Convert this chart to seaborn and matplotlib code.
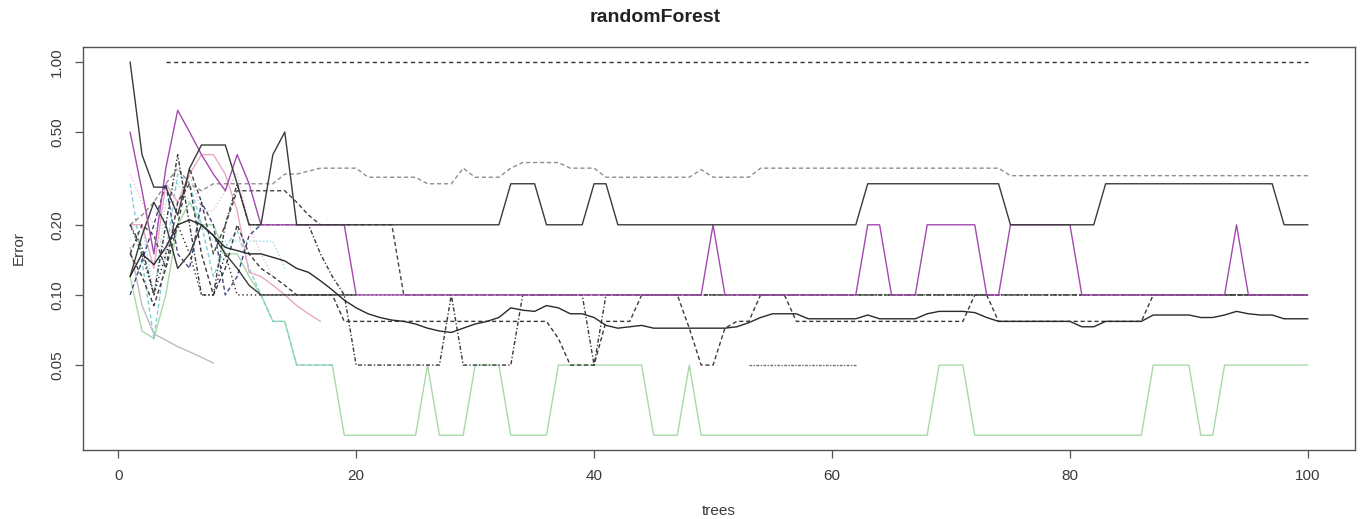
import numpy as np
import pandas as pd
import matplotlib
matplotlib.use("Agg")
import matplotlib.pyplot as plt
import seaborn as sns
from matplotlib.ticker import FixedLocator, FixedFormatter, NullLocator

nan = np.nan
trees = list(range(1, 101))

# OOB error (black solid)
oob = [0.120, 0.150, 0.135, 0.160, 0.200, 0.210, 0.200, 0.180, 0.160, 0.155,
       0.150, 0.150, 0.145, 0.140, 0.130, 0.125, 0.115, 0.105, 0.095, 0.088,
       0.083, 0.080, 0.078, 0.077, 0.075, 0.072, 0.070, 0.069, 0.072, 0.075,
       0.077, 0.080, 0.088, 0.086, 0.085, 0.090, 0.088, 0.083, 0.083, 0.080,
       0.074, 0.072, 0.073, 0.074, 0.072, 0.072, 0.072, 0.072, 0.072, 0.072,
       0.072, 0.073, 0.076, 0.080, 0.083, 0.083, 0.083, 0.079, 0.079, 0.079,
       0.079, 0.079, 0.082, 0.079, 0.079, 0.079, 0.079, 0.083, 0.085, 0.085,
       0.085, 0.084, 0.080, 0.077, 0.077, 0.077, 0.077, 0.077, 0.077, 0.077,
       0.073, 0.073, 0.077, 0.077, 0.077, 0.077, 0.082, 0.082, 0.082, 0.082,
       0.080, 0.080, 0.082, 0.085, 0.083, 0.082, 0.082, 0.079, 0.079, 0.079]

# class never predicted (black dashed, 1.00)
cls_a = [nan, nan, nan, 1.0, 1.0, 1.0, 1.0, 1.0, 1.0, 1.0,
         1.0, 1.0, 1.0, 1.0, 1.0, 1.0, 1.0, 1.0, 1.0, 1.0,
         1.0, 1.0, 1.0, 1.0, 1.0, 1.0, 1.0, 1.0, 1.0, 1.0,
         1.0, 1.0, 1.0, 1.0, 1.0, 1.0, 1.0, 1.0, 1.0, 1.0,
         1.0, 1.0, 1.0, 1.0, 1.0, 1.0, 1.0, 1.0, 1.0, 1.0,
         1.0, 1.0, 1.0, 1.0, 1.0, 1.0, 1.0, 1.0, 1.0, 1.0,
         1.0, 1.0, 1.0, 1.0, 1.0, 1.0, 1.0, 1.0, 1.0, 1.0,
         1.0, 1.0, 1.0, 1.0, 1.0, 1.0, 1.0, 1.0, 1.0, 1.0,
         1.0, 1.0, 1.0, 1.0, 1.0, 1.0, 1.0, 1.0, 1.0, 1.0,
         1.0, 1.0, 1.0, 1.0, 1.0, 1.0, 1.0, 1.0, 1.0, 1.0]

# dark solid class (0.20 / 0.30)
cls_b = [1.00, 0.40, 0.29, 0.29, 0.22, 0.35, 0.44, 0.44, 0.44, 0.30,
         0.20, 0.20, 0.40, 0.50, 0.20, 0.20, 0.20, 0.20, 0.20, 0.20,
         0.20, 0.20, 0.20, 0.20, 0.20, 0.20, 0.20, 0.20, 0.20, 0.20,
         0.20, 0.20, 0.30, 0.30, 0.30, 0.20, 0.20, 0.20, 0.20, 0.30,
         0.30, 0.20, 0.20, 0.20, 0.20, 0.20, 0.20, 0.20, 0.20, 0.20,
         0.20, 0.20, 0.20, 0.20, 0.20, 0.20, 0.20, 0.20, 0.20, 0.20,
         0.20, 0.20, 0.30, 0.30, 0.30, 0.30, 0.30, 0.30, 0.30, 0.30,
         0.30, 0.30, 0.30, 0.30, 0.20, 0.20, 0.20, 0.20, 0.20, 0.20,
         0.20, 0.20, 0.30, 0.30, 0.30, 0.30, 0.30, 0.30, 0.30, 0.30,
         0.30, 0.30, 0.30, 0.30, 0.30, 0.30, 0.30, 0.20, 0.20, 0.20]

# magenta solid class (0.10 / 0.20)
cls_c = [0.50, 0.28, 0.15, 0.35, 0.62, 0.50, 0.40, 0.33, 0.28, 0.40,
         0.30, 0.20, 0.20, 0.20, 0.20, 0.20, 0.20, 0.20, 0.20, 0.10,
         0.10, 0.10, 0.10, 0.10, 0.10, 0.10, 0.10, 0.10, 0.10, 0.10,
         0.10, 0.10, 0.10, 0.10, 0.10, 0.10, 0.10, 0.10, 0.10, 0.10,
         0.10, 0.10, 0.10, 0.10, 0.10, 0.10, 0.10, 0.10, 0.10, 0.20,
         0.10, 0.10, 0.10, 0.10, 0.10, 0.10, 0.10, 0.10, 0.10, 0.10,
         0.10, 0.10, 0.20, 0.20, 0.10, 0.10, 0.10, 0.20, 0.20, 0.20,
         0.20, 0.20, 0.10, 0.10, 0.20, 0.20, 0.20, 0.20, 0.20, 0.20,
         0.10, 0.10, 0.10, 0.10, 0.10, 0.10, 0.10, 0.10, 0.10, 0.10,
         0.10, 0.10, 0.10, 0.20, 0.10, 0.10, 0.10, 0.10, 0.10, 0.10]

# grey dashed class (~0.33)
cls_d = [0.20, 0.22, 0.25, 0.30, 0.35, 0.30, 0.28, 0.30, 0.30, 0.30,
         0.30, 0.30, 0.30, 0.33, 0.33, 0.34, 0.35, 0.35, 0.35, 0.35,
         0.32, 0.32, 0.32, 0.32, 0.32, 0.30, 0.30, 0.30, 0.35, 0.32,
         0.32, 0.32, 0.35, 0.37, 0.37, 0.37, 0.37, 0.35, 0.35, 0.35,
         0.32, 0.32, 0.32, 0.32, 0.32, 0.32, 0.32, 0.32, 0.345, 0.32,
         0.32, 0.32, 0.32, 0.35, 0.35, 0.35, 0.35, 0.35, 0.35, 0.35,
         0.35, 0.35, 0.35, 0.35, 0.35, 0.35, 0.35, 0.35, 0.35, 0.35,
         0.35, 0.35, 0.35, 0.35, 0.325, 0.325, 0.325, 0.325, 0.325, 0.325,
         0.325, 0.325, 0.325, 0.325, 0.325, 0.325, 0.325, 0.325, 0.325, 0.325,
         0.325, 0.325, 0.325, 0.325, 0.325, 0.325, 0.325, 0.325, 0.325, 0.325]

# black dotted class (0.10)
cls_e = [0.20, 0.15, 0.10, 0.15, 0.20, 0.15, 0.10, 0.10, 0.15, 0.10,
         0.10, 0.10, 0.10, 0.10, 0.10, 0.10, 0.10, 0.10, 0.10, 0.10,
         0.10, 0.10, 0.10, 0.10, 0.10, 0.10, 0.10, 0.10, 0.10, 0.10,
         0.10, 0.10, 0.10, 0.10, 0.10, 0.10, 0.10, 0.10, 0.10, 0.10,
         0.10, 0.10, 0.10, 0.10, 0.10, 0.10, 0.10, 0.10, 0.10, 0.10,
         0.10, 0.10, 0.10, 0.10, 0.10, 0.10, 0.10, 0.10, 0.10, 0.10,
         0.10, 0.10, 0.10, 0.10, 0.10, 0.10, 0.10, 0.10, 0.10, 0.10,
         0.10, 0.10, 0.10, 0.10, 0.10, 0.10, 0.10, 0.10, 0.10, 0.10,
         0.10, 0.10, 0.10, 0.10, 0.10, 0.10, 0.10, 0.10, 0.10, 0.10,
         0.10, 0.10, 0.10, 0.10, 0.10, 0.10, 0.10, 0.10, 0.10, 0.10]

# black dash-dot class (0.05 / 0.10)
cls_f = [0.20, 0.16, 0.10, 0.20, 0.40, 0.20, 0.10, 0.10, 0.20, 0.30,
         0.20, 0.20, 0.20, 0.20, 0.20, 0.20, 0.15, 0.12, 0.10, 0.05,
         0.05, 0.05, 0.05, 0.05, 0.05, 0.05, 0.05, 0.10, 0.05, 0.05,
         0.05, 0.05, 0.05, 0.10, 0.10, 0.10, 0.10, 0.10, 0.10, 0.05,
         0.10, 0.10, 0.10, 0.10, 0.10, 0.10, 0.10, 0.10, 0.10, 0.10,
         0.10, 0.10, 0.10, 0.10, 0.10, 0.10, 0.10, 0.10, 0.10, 0.10,
         0.10, 0.10, 0.10, 0.10, 0.10, 0.10, 0.10, 0.10, 0.10, 0.10,
         0.10, 0.10, 0.10, 0.10, 0.10, 0.10, 0.10, 0.10, 0.10, 0.10,
         0.10, 0.10, 0.10, 0.10, 0.10, 0.10, 0.10, 0.10, 0.10, 0.10,
         0.10, 0.10, 0.10, 0.10, 0.10, 0.10, 0.10, 0.10, 0.10, 0.10]

# black dashed class (~0.077)
cls_g = [0.15, 0.12, 0.09, 0.13, 0.25, 0.30, 0.15, 0.10, 0.13, 0.20,
         0.15, 0.13, 0.12, 0.11, 0.10, 0.10, 0.10, 0.10, 0.077, 0.077,
         0.077, 0.077, 0.077, 0.077, 0.077, 0.077, 0.077, 0.077, 0.077, 0.077,
         0.077, 0.077, 0.077, 0.077, 0.077, 0.077, 0.065, 0.05, 0.05, 0.05,
         0.077, 0.077, 0.077, 0.10, 0.10, 0.10, 0.10, 0.072, 0.05, 0.05,
         0.072, 0.077, 0.077, 0.10, 0.10, 0.10, 0.077, 0.077, 0.077, 0.077,
         0.077, 0.077, 0.077, 0.077, 0.077, 0.077, 0.077, 0.077, 0.077, 0.077,
         0.077, 0.10, 0.10, 0.077, 0.077, 0.077, 0.077, 0.077, 0.077, 0.077,
         0.077, 0.077, 0.077, 0.077, 0.077, 0.077, 0.10, 0.10, 0.10, 0.10,
         0.10, 0.10, 0.10, 0.10, 0.10, 0.10, 0.10, 0.10, 0.10, 0.10]

# dark solid class (0.30 -> 0.20 -> 0.10)
cls_h = [0.15, 0.20, 0.18, 0.13, 0.20, 0.35, 0.25, 0.15, 0.20, 0.28,
         0.28, 0.28, 0.28, 0.28, 0.25, 0.22, 0.20, 0.20, 0.20, 0.20,
         0.20, 0.20, 0.20, 0.10, 0.10, 0.10, 0.10, 0.10, 0.10, 0.10,
         0.10, 0.10, 0.10, 0.10, 0.10, 0.10, 0.10, 0.10, 0.10, 0.10,
         0.10, 0.10, 0.10, 0.10, 0.10, 0.10, 0.10, 0.10, 0.10, 0.10,
         0.10, 0.10, 0.10, 0.10, 0.10, 0.10, 0.10, 0.10, 0.10, 0.10,
         0.10, 0.10, 0.10, 0.10, 0.10, 0.10, 0.10, 0.10, 0.10, 0.10,
         0.10, 0.10, 0.10, 0.10, 0.10, 0.10, 0.10, 0.10, 0.10, 0.10,
         0.10, 0.10, 0.10, 0.10, 0.10, 0.10, 0.10, 0.10, 0.10, 0.10,
         0.10, 0.10, 0.10, 0.10, 0.10, 0.10, 0.10, 0.10, 0.10, 0.10]

# dark solid class reaching 0.10 early (0.10 from tree 12)
cls_q = [0.12, 0.18, 0.25, 0.20, 0.13, 0.15, 0.20, 0.18, 0.15, 0.13,
         0.11, 0.10, 0.10, 0.10, 0.10, 0.10, 0.10, 0.10, 0.10, 0.10] + [nan] * 80

# light green class (0.025 / 0.05)
cls_i = [0.12, 0.07, 0.065, 0.10, 0.20, 0.25, 0.20, 0.20, 0.15, 0.15,
         0.12, 0.10, 0.077, 0.077, 0.05, 0.05, 0.05, 0.05, 0.025, 0.025,
         0.025, 0.025, 0.025, 0.025, 0.025, 0.05, 0.025, 0.025, 0.025, 0.05,
         0.05, 0.05, 0.025, 0.025, 0.025, 0.025, 0.05, 0.05, 0.05, 0.05,
         0.05, 0.05, 0.05, 0.05, 0.025, 0.025, 0.025, 0.05, 0.025, 0.025,
         0.025, 0.025, 0.025, 0.025, 0.025, 0.025, 0.025, 0.025, 0.025, 0.025,
         0.025, 0.025, 0.025, 0.025, 0.025, 0.025, 0.025, 0.025, 0.05, 0.05,
         0.05, 0.025, 0.025, 0.025, 0.025, 0.025, 0.025, 0.025, 0.025, 0.025,
         0.025, 0.025, 0.025, 0.025, 0.025, 0.025, 0.05, 0.05, 0.05, 0.05,
         0.025, 0.025, 0.05, 0.05, 0.05, 0.05, 0.05, 0.05, 0.05, 0.05]

# cyan dashed class (early trees only)
cls_j = [0.30, 0.14, 0.065, 0.15, 0.33, 0.30, 0.20, 0.12, 0.16, 0.19,
         0.13, 0.10, 0.077, 0.077, 0.05, 0.05, 0.05, 0.05] + [nan] * 82

# cyan dotted class (early trees only)
cls_k = [0.20, 0.20, 0.10, 0.25, 0.30, 0.25, 0.20, 0.17, 0.17, 0.17,
         0.17, 0.17, 0.17, 0.13] + [nan] * 86

# pink solid class (early trees only)
cls_l = [0.20, 0.20, 0.13, 0.30, 0.25, 0.33, 0.40, 0.40, 0.33, 0.23,
         0.125, 0.12, 0.11, 0.10, 0.09, 0.083, 0.077] + [nan] * 83

# light pink dotted class (early trees only)
cls_m = [0.33, 0.25, 0.20, 0.15, 0.25, 0.33, 0.23, 0.23, 0.28, 0.33,
         0.20, 0.15, 0.12] + [nan] * 87

# light grey solid class (early trees only)
cls_n = [0.16, 0.09, 0.068, 0.064, 0.060, 0.057, 0.054, 0.051] + [nan] * 92

# navy dashed class (early trees only)
cls_o = [0.10, 0.14, 0.20, 0.30, 0.15, 0.13, 0.25, 0.20, 0.10, 0.12,
         0.18, 0.20] + [nan] * 88

# grey dash-dot short segment at 0.05
cls_p = [nan] * 52 + [0.05, 0.05, 0.05, 0.05, 0.05, 0.05, 0.05, 0.05, 0.05, 0.05] + [nan] * 38

series = {
    "c_green": cls_i, "c_cyan": cls_j, "c_cyan2": cls_k, "c_pink": cls_l,
    "c_pink2": cls_m, "c_grey2": cls_n, "c_grey": cls_d, "c_short": cls_p,
    "c_navy": cls_o, "c_dot": cls_e, "c_dashdot": cls_f, "c_dash2": cls_g,
    "c_dash3": cls_h, "c_early": cls_q, "c_magenta": cls_c, "c_one": cls_a,
    "c_dark": cls_b, "OOB": oob,
}
order = list(series.keys())

palette = {
    "c_green": "#a9d9a9", "c_cyan": "#7fcfd6", "c_cyan2": "#9fe0e4",
    "c_pink": "#e8a8c6", "c_pink2": "#f0c4d6", "c_grey2": "#bdbdbd",
    "c_grey": "#8e8e8e", "c_short": "#6f6f6f", "c_navy": "#3d4680",
    "c_dot": "#2e2e2e", "c_dashdot": "#3a3a3a", "c_dash2": "#3a3a3a",
    "c_dash3": "#444444", "c_early": "#3a3a3a", "c_magenta": "#a24aae",
    "c_one": "#333333", "c_dark": "#3a3a3a", "OOB": "#2a2a2a",
}
dashes = {
    "c_green": "", "c_cyan": (3, 2), "c_cyan2": (1, 1.5), "c_pink": "",
    "c_pink2": (1, 1.5), "c_grey2": "", "c_grey": (3, 2), "c_short": (2, 1, 1, 1),
    "c_navy": (3, 2), "c_dot": (1, 2), "c_dashdot": (3, 1.5, 1, 1.5),
    "c_dash2": (3, 2), "c_dash3": (3, 2), "c_early": "", "c_magenta": "",
    "c_one": (3, 2.5), "c_dark": "", "OOB": "",
}

rows = []
for name in order:
    for t, v in zip(trees, series[name]):
        if not np.isnan(v):
            rows.append((name, t, v))
df = pd.DataFrame(rows, columns=["series", "trees", "Error"])

sns.set_style("ticks")
plt.rcParams["font.family"] = ["Liberation Sans", "DejaVu Sans"]

W, H = 1369, 519
fig = plt.figure(figsize=(W / 100, H / 100), dpi=100)
ax = fig.add_axes([83 / W, 1 - 450 / H, (1355 - 83) / W, (450 - 47) / H])
ax.set_yscale("log")

sns.lineplot(data=df, x="trees", y="Error", hue="series", style="series",
             hue_order=order, style_order=order, palette=palette, dashes=dashes,
             estimator=None, legend=False, linewidth=1.0, ax=ax)

ax.set_xlim(-2.96, 103.96)
ax.set_ylim(0.0216, 1.159)
ax.set_xticks([0, 20, 40, 60, 80, 100])
ax.xaxis.set_major_formatter(FixedFormatter(["0", "20", "40", "60", "80", "100"]))
ax.yaxis.set_major_locator(FixedLocator([0.05, 0.1, 0.2, 0.5, 1.0]))
ax.yaxis.set_major_formatter(FixedFormatter(["0.05", "0.10", "0.20", "0.50", "1.00"]))
ax.yaxis.set_minor_locator(NullLocator())

txt = "#3a3a3a"
for s in ax.spines.values():
    s.set_color("#555555")
    s.set_linewidth(1.0)
ax.tick_params(axis="both", colors="#555555", labelcolor=txt, length=5.5,
               width=0.9, labelsize=11, pad=8)
for lab in ax.get_yticklabels():
    lab.set_rotation(90)
    lab.set_va("center")

ax.set_xlabel("trees", fontsize=11, color=txt, labelpad=15)
ax.set_ylabel("Error", fontsize=11, color=txt, labelpad=18)
fig.text(655 / W, 1 - 17 / H, "randomForest", ha="center", va="center",
         fontsize=14, fontweight="bold", color="#222222")

fig.savefig("out.png", dpi=100)
